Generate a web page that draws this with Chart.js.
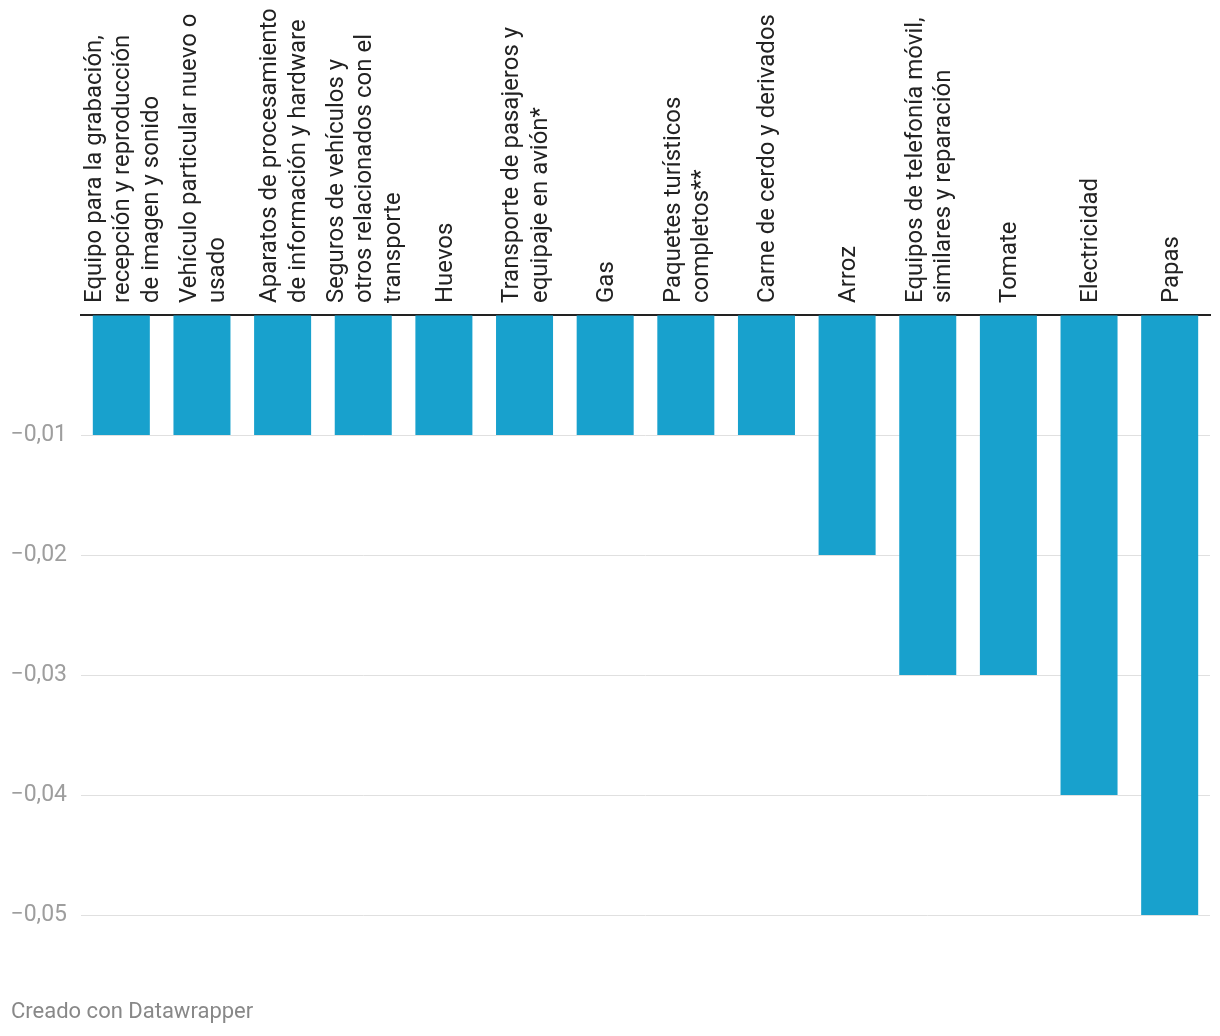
<!DOCTYPE html>
<html lang="es">
<head>
<meta charset="utf-8">
<title>Incidencia negativa</title>
<script src="https://cdn.jsdelivr.net/npm/chart.js@4/dist/chart.umd.min.js"></script>
<style>
  html, body { margin: 0; padding: 0; background: #fff; }
  #wrap { position: relative; width: 1220px; height: 1036px; }
  #footer {
    position: absolute; left: 11px; top: 998px;
    font-family: Roboto, sans-serif; font-size: 22px; color: #888;
  }
</style>
</head>
<body>
<div id="wrap">
  <canvas id="chart" width="1220" height="1036"></canvas>
  <div id="footer">Creado con Datawrapper</div>
</div>
<script>
// categorías (con los saltos de línea del original)
const categorias = [
  ['Equipo para la grabación,', 'recepción y reproducción', 'de imagen y sonido'],
  ['Vehículo particular nuevo o', 'usado'],
  ['Aparatos de procesamiento', 'de información y hardware'],
  ['Seguros de vehículos y', 'otros relacionados con el', 'transporte'],
  'Huevos',
  ['Transporte de pasajeros y', 'equipaje en avión*'],
  'Gas',
  ['Paquetes turísticos', 'completos**'],
  'Carne de cerdo y derivados',
  'Arroz',
  ['Equipos de telefonía móvil,', 'similares y reparación'],
  'Tomate',
  'Electricidad',
  'Papas'
];

// incidencia
const valores = [-0.01, -0.01, -0.01, -0.01, -0.01, -0.01, -0.01, -0.01, -0.01, -0.02, -0.03, -0.03, -0.04, -0.05];

// ticks del eje Y
const ticksY = [0, -0.01, -0.02, -0.03, -0.04, -0.05];

const colorBarra = '#18a1cd';
const tamLetra = 24;
const altoLinea = 28.5;

// número de líneas de cada etiqueta
const lineasDe = i => Array.isArray(categorias[i]) ? categorias[i].length : 1;

// Chart.js desplaza las etiquetas rotadas según el nº de líneas;
// se compensa con una línea vacía (1 línea) y el backdrop (sin desplazamiento extra)
const etiquetas = categorias.map(c => Array.isArray(c) ? c : [c, '']);

function formatoTick(v) {
  if (Math.abs(v) < 1e-9) return '';
  return '\u2212' + Math.abs(v).toFixed(2).replace('.', ',');
}

const ctx = document.getElementById('chart').getContext('2d');

new Chart(ctx, {
  type: 'bar',
  data: {
    labels: etiquetas,
    datasets: [{
      data: valores,
      backgroundColor: colorBarra,
      borderWidth: 0,
      barPercentage: 0.707,
      categoryPercentage: 1
    }]
  },
  options: {
    responsive: false,
    animation: false,
    layout: { padding: { top: 0, right: 10, bottom: 121, left: 0 } },
    plugins: {
      legend: { display: false },
      tooltip: { enabled: false }
    },
    scales: {
      x: {
        position: 'top',
        z: 1,
        grid: { display: false, drawTicks: false },
        border: { display: true, color: '#222', width: 2 },
        ticks: {
          autoSkip: false,
          maxRotation: 90,
          minRotation: 90,
          padding: 12,
          labelOffset: altoLinea * 1.5 + 2,
          showLabelBackdrop: c => lineasDe(c.index) !== 2,
          backdropColor: 'rgba(0,0,0,0)',
          backdropPadding: 0,
          color: '#222',
          font: { family: 'Roboto', size: tamLetra, lineHeight: altoLinea / tamLetra }
        },
        afterFit: scale => { scale.height = 315; }
      },
      y: {
        min: -0.05,
        max: 0,
        afterBuildTicks: scale => {
          scale.ticks = ticksY.map(v => ({ value: v }));
        },
        grid: {
          color: '#e0e0e0',
          lineWidth: 1,
          drawTicks: false
        },
        border: { display: false },
        ticks: {
          padding: 14,
          color: '#9e9e9e',
          font: { family: 'Roboto', size: 23 },
          callback: v => formatoTick(v)
        },
        afterFit: scale => { scale.width = 81; }
      }
    }
  }
});
</script>
</body>
</html>
